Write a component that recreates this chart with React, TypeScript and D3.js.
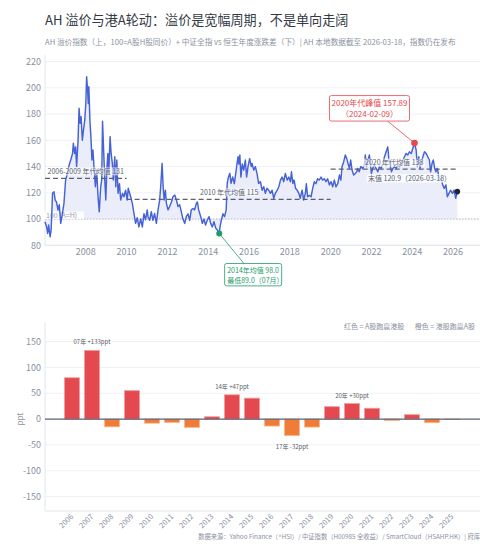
import * as d3 from 'd3';

// AH premium index (decimal year, index value)
const ahYears = [
  2006.0, 2006.08, 2006.13, 2006.18, 2006.25, 2006.3, 2006.37, 2006.44, 2006.5, 2006.56, 2006.64, 2006.7,
  2006.77, 2006.82, 2006.88, 2006.93, 2007.01, 2007.1, 2007.18, 2007.26, 2007.35, 2007.39, 2007.45, 2007.5,
  2007.55, 2007.62, 2007.67, 2007.72, 2007.77, 2007.83, 2007.88, 2007.95, 2008.0, 2008.04, 2008.09, 2008.12,
  2008.15, 2008.2, 2008.25, 2008.3, 2008.35, 2008.4, 2008.47, 2008.53, 2008.6, 2008.66, 2008.73, 2008.78,
  2008.82, 2008.88, 2008.93, 2008.98, 2009.03, 2009.08, 2009.13, 2009.19, 2009.24, 2009.3, 2009.35, 2009.42,
  2009.47, 2009.52, 2009.58, 2009.65, 2009.71, 2009.8, 2009.87, 2009.95, 2010.03, 2010.08, 2010.2, 2010.28,
  2010.36, 2010.44, 2010.52, 2010.6, 2010.69, 2010.77, 2010.85, 2010.93, 2011.01, 2011.05, 2011.13, 2011.21,
  2011.29, 2011.37, 2011.46, 2011.54, 2011.62, 2011.67, 2011.74, 2011.79, 2011.84, 2011.9, 2011.95, 2012.03,
  2012.11, 2012.2, 2012.27, 2012.36, 2012.44, 2012.52, 2012.6, 2012.68, 2012.76, 2012.85, 2012.93, 2013.01,
  2013.09, 2013.17, 2013.25, 2013.33, 2013.42, 2013.47, 2013.53, 2013.63, 2013.71, 2013.79, 2013.87, 2013.95,
  2014.04, 2014.12, 2014.2, 2014.28, 2014.37, 2014.45, 2014.54, 2014.58, 2014.64, 2014.72, 2014.8, 2014.88,
  2014.93, 2014.99, 2015.06, 2015.12, 2015.2, 2015.28, 2015.37, 2015.46, 2015.5, 2015.55, 2015.6, 2015.67,
  2015.74, 2015.82, 2015.88, 2015.95, 2016.03, 2016.11, 2016.15, 2016.23, 2016.31, 2016.39, 2016.47, 2016.56,
  2016.64, 2016.72, 2016.8, 2016.88, 2016.96, 2017.05, 2017.13, 2017.21, 2017.29, 2017.38, 2017.46, 2017.54,
  2017.62, 2017.7, 2017.78, 2017.87, 2017.95, 2018.03, 2018.08, 2018.15, 2018.21, 2018.28, 2018.36, 2018.44,
  2018.51, 2018.6, 2018.68, 2018.76, 2018.81, 2018.87, 2018.95, 2019.04, 2019.12, 2019.2, 2019.28, 2019.36,
  2019.44, 2019.53, 2019.61, 2019.69, 2019.77, 2019.85, 2019.94, 2020.02, 2020.1, 2020.18, 2020.26, 2020.35,
  2020.43, 2020.5, 2020.56, 2020.64, 2020.72, 2020.79, 2020.85, 2020.92, 2020.98, 2021.05, 2021.13, 2021.21,
  2021.28, 2021.32, 2021.4, 2021.48, 2021.57, 2021.65, 2021.7, 2021.76, 2021.83, 2021.9, 2021.95, 2022.0,
  2022.06, 2022.14, 2022.23, 2022.31, 2022.39, 2022.47, 2022.56, 2022.64, 2022.72, 2022.8, 2022.85, 2022.92,
  2022.98, 2023.05, 2023.13, 2023.21, 2023.29, 2023.38, 2023.45, 2023.54, 2023.62, 2023.7, 2023.78, 2023.86,
  2023.95, 2024.03, 2024.11, 2024.19, 2024.25, 2024.32, 2024.38, 2024.45, 2024.52, 2024.6, 2024.68, 2024.76,
  2024.84, 2024.9, 2024.97, 2025.03, 2025.1, 2025.16, 2025.23, 2025.29, 2025.36, 2025.42, 2025.49, 2025.57,
  2025.65, 2025.72, 2025.8, 2025.88, 2025.97, 2026.05, 2026.13, 2026.21,
];
const ahValues = [
  98, 94, 89, 95.4, 86.5, 91.6, 119.6, 120.8, 114.5, 113, 106.9, 111,
  96.7, 101, 107, 112, 129.7, 134.8, 141, 145, 150, 157.7, 150, 155,
  140, 160, 184.4, 173, 178, 160, 167, 175.5, 188, 208.5, 198, 188,
  200.8, 175.5, 162.7, 145, 152.6, 140, 124.6, 137.3, 117, 105.5, 124.6, 129.7,
  174.5, 150, 129.7, 114.5, 137.3, 150, 137, 162.7, 150, 142.4, 129.7, 147.5,
  124.6, 145, 119.6, 127, 114.5, 119.6, 117, 122, 114.5, 123.4, 117, 112,
  104.3, 96.7, 101, 94, 100, 94, 104, 99.5, 107, 101.8, 99, 105.6,
  99, 104.3, 96.7, 107, 114.5, 124.6, 142.4, 124.6, 114.5, 122, 112, 107,
  109.6, 113, 117, 118.3, 114.5, 109.6, 110.8, 105.6, 100, 96.7, 102, 104,
  99, 107, 108, 107, 112, 113, 107, 102, 96.7, 100, 95.4, 99,
  101.8, 96.7, 94, 98, 92.9, 91.6, 89.0, 94, 99, 104, 101.8, 107,
  127.2, 132, 134.8, 127.2, 132, 127, 137.3, 147.5, 142, 148.8, 132, 142,
  137.3, 145, 132, 140, 146, 140, 142.4, 137.3, 140, 134.8, 127.2, 128.5,
  122, 124.6, 119.6, 123.4, 122, 119.6, 122, 115.8, 119.6, 122, 124.6, 129.7,
  132, 128.5, 134.8, 129.7, 132, 128.5, 136, 127, 129.7, 123.4, 122, 119.6,
  115.8, 122, 114.5, 119.6, 127, 117, 118, 117, 123.4, 128.4, 127, 130.7,
  129.7, 132, 129.7, 130.7, 128.5, 130.7, 126, 128.5, 124.6, 129.7, 124.6, 127,
  133.5, 129.7, 140, 143.7, 148.8, 146, 142.4, 138.6, 145, 137.3, 133.5, 134.8,
  136, 138.6, 136, 140, 138.6, 141, 148.8, 140, 145, 148.8, 142.4, 134.8,
  138.6, 141, 138.6, 136, 140, 138.6, 142.4, 147.5, 151.3, 155, 146, 141,
  136, 138.6, 140, 138.6, 141, 140, 142.4, 145, 147.5, 150, 148.8, 151.3,
  150, 153.9, 157.89, 152.6, 140, 147.5, 138.6, 142.4, 147.5, 151.3, 150, 147.5,
  145, 136, 142.4, 145, 138.6, 136, 138.6, 133.5, 129.7, 131, 126, 123.4,
  126, 117, 119.6, 122, 119.6, 122, 115.8, 120.9,
];

const meanStarts = [2006, 2010, 2020];
const meanEnds = [2010, 2020, 2026.21];
const meanValues = [131, 115, 138];
const meanLabels = ['2006-2009 年代均值 131', '2010 年代均值 115', '2020 年代均值 138'];

const peakYear = 2024.11;
const peakValue = 157.89;
const troughYear = 2014.54;
const troughValue = 89.0;
const lastYear = 2026.21;
const lastValue = 120.9;

const topYTicks = [80, 100, 120, 140, 160, 180, 200, 220];
const topXTicks = [2008, 2010, 2012, 2014, 2016, 2018, 2020, 2022, 2024, 2026];

// CSI All Share minus Hang Seng, yearly return gap (ppt)
const barYears = [
  '2006', '2007', '2008', '2009', '2010', '2011', '2012', '2013', '2014', '2015',
  '2016', '2017', '2018', '2019', '2020', '2021', '2022', '2023', '2024', '2025',
];
const barValues = [80, 133, -15, 55, -8, -6.5, -16, 4.5, 47, 40.5, -13.5, -32, -15.5, 24, 30, 21, -3, 8.5, -7, -1];
const barNoteYears = ['2007', '2014', '2017', '2020'];
const barNotes = ['07年 +133ppt', '14年 +47ppt', '17年 -32ppt', '20年 +30ppt'];
const barYTicks = [-150, -100, -50, 0, 50, 100, 150];

const FONT = '"Noto Sans CJK SC", "Noto Sans", sans-serif';
const GRAY = '#8a919f';
const DARK = '#5a6172';
const BLUE = '#4562d6';
const RED = '#e3494e';
const ORANGE = '#ef7d38';
const GREEN = '#1e9b6c';

export default function App() {
  const left = 45;
  const right = 480;

  const x = d3.scaleLinear().domain([2006, 2027.32]).range([left, right]);
  const y = d3.scaleLinear().domain([80, 225]).range([245.3, 55]);

  const points = ahYears.map((yr, i) => [yr, ahValues[i]] as [number, number]);
  const line = d3
    .line<[number, number]>()
    .x((d) => x(d[0]))
    .y((d) => y(d[1]));
  const area = d3
    .area<[number, number]>()
    .x((d) => x(d[0]))
    .y0(y(100))
    .y1((d) => y(d[1]));

  const bx = d3.scaleBand<string>().domain(barYears).range([62, 462]).paddingInner(0.25).paddingOuter(0.125);
  const by = d3.scaleLinear().domain([-178, 188]).range([511, 322]);

  const px = x(peakYear);
  const py = y(peakValue);
  const tx = x(troughYear);
  const ty = y(troughValue);

  return (
    <svg
      width={500}
      height={550}
      style={{ position: 'absolute', left: 0, top: 0, background: '#fff', fontFamily: FONT }}
    >
      <text x={45} y={25} fontSize={13.1} fill="#333a45">
        AH 溢价与港A轮动：溢价是宽幅周期，不是单向走阔
      </text>
      <text x={45} y={45} fontSize={7.65} fill={GRAY}>
        AH 溢价指数（上，100=A股H股同价）+ 中证全指 vs 恒生年度涨跌差（下）| AH 本地数据截至 2026-03-18，指数仍在发布
      </text>

      {/* top panel */}
      {topYTicks.map((t) => (
        <g key={t}>
          <line x1={left} x2={right} y1={y(t)} y2={y(t)} stroke="#eff1f5" />
          <text x={41} y={y(t) + 3.2} fontSize={9} fill={GRAY} textAnchor="end">
            {t}
          </text>
        </g>
      ))}
      <line x1={left} x2={left} y1={55} y2={245.3} stroke="#e3e6ec" />
      <line x1={left} x2={right} y1={245.3} y2={245.3} stroke="#e3e6ec" />
      {topXTicks.map((t) => (
        <text key={t} x={x(t)} y={255} fontSize={9} fill={GRAY} textAnchor="middle">
          {t}
        </text>
      ))}

      <path d={area(points) ?? ''} fill="#e8ebf9" opacity={0.85} />
      <line x1={left} x2={right} y1={y(100)} y2={y(100)} stroke="#b9bec9" strokeDasharray="1.5,1.5" />
      <rect x={44} y={y(100) - 7.5} width={40} height={7.5} fill="#fff" opacity={0.85} />
      <text x={46} y={y(100) - 1.2} fontSize={7} fill="#9aa0ad">
        100 (A=H)
      </text>

      <path d={line(points) ?? ''} fill="none" stroke={BLUE} strokeWidth={1.45} strokeLinejoin="round" />

      {meanValues.map((v, i) => (
        <line
          key={i}
          x1={x(meanStarts[i])}
          x2={x(meanEnds[i])}
          y1={y(v)}
          y2={y(v)}
          stroke={DARK}
          strokeWidth={1.2}
          strokeDasharray="5,3"
        />
      ))}
      <rect x={46} y={y(meanValues[0]) - 11} width={79} height={8} fill="#fff" opacity={0.6} />
      <text x={47.5} y={y(meanValues[0]) - 4.5} fontSize={7} fill={DARK}>
        {meanLabels[0]}
      </text>
      <rect x={198} y={y(meanValues[1]) - 11} width={60} height={8} fill="#fff" opacity={0.6} />
      <text x={200} y={y(meanValues[1]) - 4.5} fontSize={7} fill={DARK}>
        {meanLabels[1]}
      </text>
      <rect x={363} y={y(meanValues[2]) - 10.5} width={62} height={8} fill="#fff" opacity={0.7} />
      <text x={365} y={y(meanValues[2]) - 4.2} fontSize={7} fill={DARK}>
        {meanLabels[2]}
      </text>
      <rect x={366.5} y={y(lastValue) - 17.5} width={80} height={8.5} fill="#fff" opacity={0.75} />
      <text x={368} y={y(lastValue) - 11} fontSize={7} fill={DARK}>
        末值 {lastValue}（2026-03-18）
      </text>

      {/* peak note */}
      <line x1={px - 27} y1={py - 22} x2={px} y2={py} stroke={RED} strokeWidth={0.8} />
      <rect x={px - 85} y={py - 47.5} width={80} height={25.5} rx={2} fill="#fff" stroke={RED} strokeWidth={0.8} />
      <text x={px - 45} y={py - 37} fontSize={8} fill={RED} textAnchor="middle">
        2020年代峰值 {peakValue}
      </text>
      <text x={px - 45} y={py - 26.5} fontSize={8} fill={RED} textAnchor="middle">
        （2024-02-09）
      </text>
      <circle cx={px} cy={py} r={3.3} fill={RED} />

      {/* trough note */}
      <line x1={tx} y1={ty} x2={tx + 24.7} y2={ty + 30} stroke={GREEN} strokeWidth={0.8} />
      <rect x={tx + 5.4} y={ty + 30} width={57} height={22.4} rx={2} fill="#fff" stroke={GREEN} strokeWidth={0.8} />
      <text x={tx + 8} y={ty + 40} fontSize={7} fill={GREEN}>
        2014年均值 98.0
      </text>
      <text x={tx + 8} y={ty + 49.5} fontSize={7} fill={GREEN}>
        最低89.0（07月）
      </text>
      <circle cx={tx} cy={ty} r={3} fill={GREEN} />

      <circle cx={x(lastYear)} cy={y(lastValue)} r={2.8} fill="#1f2430" />

      {/* bottom panel */}
      {barYTicks.map((t) => (
        <g key={t}>
          {t !== 0 && <line x1={left} x2={right} y1={by(t)} y2={by(t)} stroke="#eff1f5" />}
          <text x={41} y={by(t) + 3.2} fontSize={9} fill={GRAY} textAnchor="end">
            {t}
          </text>
        </g>
      ))}
      <line x1={left} x2={left} y1={322} y2={511} stroke="#e3e6ec" />
      <line x1={left} x2={right} y1={511} y2={511} stroke="#e3e6ec" />
      <text transform={`translate(22.5,${by(0)}) rotate(-90)`} fontSize={8} fill={GRAY} textAnchor="middle">
        ppt
      </text>

      {barYears.map((yr, i) => {
        const v = barValues[i];
        const pos = v >= 0;
        return (
          <rect
            key={yr}
            x={bx(yr) ?? 0}
            y={by(Math.max(0, v))}
            width={bx.bandwidth()}
            height={Math.abs(by(v) - by(0))}
            fill={pos ? RED : ORANGE}
            stroke={pos ? '#f29b9d' : '#f8b68c'}
            strokeWidth={0.8}
          />
        );
      })}
      <line x1={left} x2={right} y1={by(0)} y2={by(0)} stroke={DARK} strokeWidth={1.2} />

      {barNoteYears.map((yr, i) => {
        const v = barValues[barYears.indexOf(yr)];
        const cx = (bx(yr) ?? 0) + bx.bandwidth() / 2;
        return (
          <text
            key={yr}
            x={cx}
            y={v >= 0 ? by(v) - 6 : by(v) + 13}
            fontSize={6}
            fill="#555b66"
            textAnchor="middle"
          >
            {barNotes[i]}
          </text>
        );
      })}

      <text x={475} y={329} fontSize={7} fill={GRAY} textAnchor="end">
        红色 = A股跑赢港股{'\u2003\u2002'}橙色 = 港股跑赢A股
      </text>

      {barYears.map((yr) => {
        const cx = (bx(yr) ?? 0) + bx.bandwidth() / 2;
        return (
          <text
            key={yr}
            transform={`translate(${cx + 2},517) rotate(-45)`}
            fontSize={7.5}
            fill={GRAY}
            textAnchor="end"
          >
            {yr}
          </text>
        );
      })}

      <text x={480} y={539} fontSize={6.3} fill={GRAY} textAnchor="end">
        数据来源：Yahoo Finance（^HSI）/ 中证指数（H00985 全收益）/ SmartCloud（HSAHP.HK）| 府库
      </text>
    </svg>
  );
}
